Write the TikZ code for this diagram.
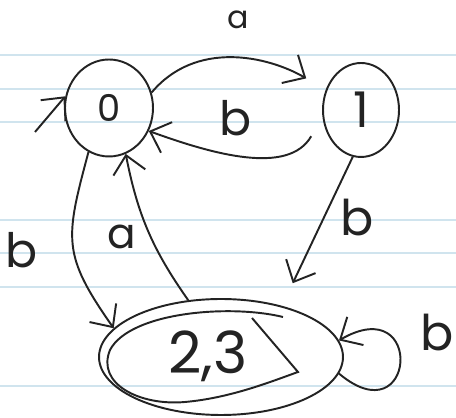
\documentclass[tikz,border=0pt]{standalone}
\usepackage{fontspec}
\setmainfont{Poppins}
\usepackage{xcolor}
\usetikzlibrary{arrows.meta, shapes.geometric}

\definecolor{inkgray}{RGB}{35,35,35}
\definecolor{ruleblue}{RGB}{208,228,238}

\begin{document}
\begin{tikzpicture}[
    x=0.02cm, y=0.02cm,
    line width=1.1pt,
    state/.style={draw=inkgray, ellipse, inner sep=0pt, text=inkgray},
    lbl/.style={text=inkgray, inner sep=0pt},
    arrow/.style={-{Straight Barb[length=3.5mm, width=6.5mm]}, draw=inkgray}
]

% ruled paper
\useasboundingbox (0,0) rectangle (456,418);
\fill[white] (0,0) rectangle (456,418);
\foreach \y in {363, 329, 296, 198, 165, 131, 32}
    \draw[ruleblue, line width=0.6pt] (0,\y) -- (456,\y);

% states
\node[state, minimum width=1.76cm, minimum height=1.94cm, font=\fontsize{21}{22}\selectfont] (q0) at (109,310) {0};
\node[state, minimum width=1.52cm, minimum height=1.88cm, font=\fontsize{28}{30}\selectfont] (q1) at (361,308) {1};
\node[state, minimum width=4.88cm, minimum height=2.32cm] (q23) at (221,61) {};
\node[lbl, font=\fontsize{33}{36}\selectfont] (t23) at (208,62) {2,3};
\draw[inkgray] (283,101) .. controls (230,114) and (130,106) .. (110,68)
    .. controls (96,34) and (140,12) .. (185,16)
    .. controls (230,20) and (270,36) .. (298,46) -- (252,100);

% transitions
\coordinate (start) at (35,286);
\draw[arrow] (start) -- (q0.165);
\draw[arrow, shorten >=0.45cm] (q0.20) to[out=50, in=150] (q1.150);
\draw[arrow, shorten <=0.45cm] (q1.190) to[out=-120, in=-20] (q0.-30);
\draw[arrow] (q0.-115) to[out=-105, in=125, looseness=1.3] (q23.165);
\draw[arrow] (q23.120) to[bend left=12] (q0.-70);
\draw[arrow, shorten >=0.5cm] (q1.-100) -- (q23.40);
\draw[arrow] (q23.-8) to[out=-40, in=30, out distance=2cm, in distance=2cm] (q23.8);

% labels
\node[lbl, font=\fontsize{18}{20}\selectfont] (la) at (238,398) {a};
\node[lbl, font=\fontsize{27}{30}\selectfont] (lb) at (236,300) {b};
\node[lbl, font=\fontsize{27}{30}\selectfont] (lbl) at (22,168) {b};
\node[lbl, font=\fontsize{24}{26}\selectfont] (lal) at (122,181) {a};
\node[lbl, font=\fontsize{28}{30}\selectfont] (lbr) at (357,200) {b};
\node[lbl, font=\fontsize{28}{30}\selectfont] (lbloop) at (437,85) {b};

\end{tikzpicture}
\end{document}
